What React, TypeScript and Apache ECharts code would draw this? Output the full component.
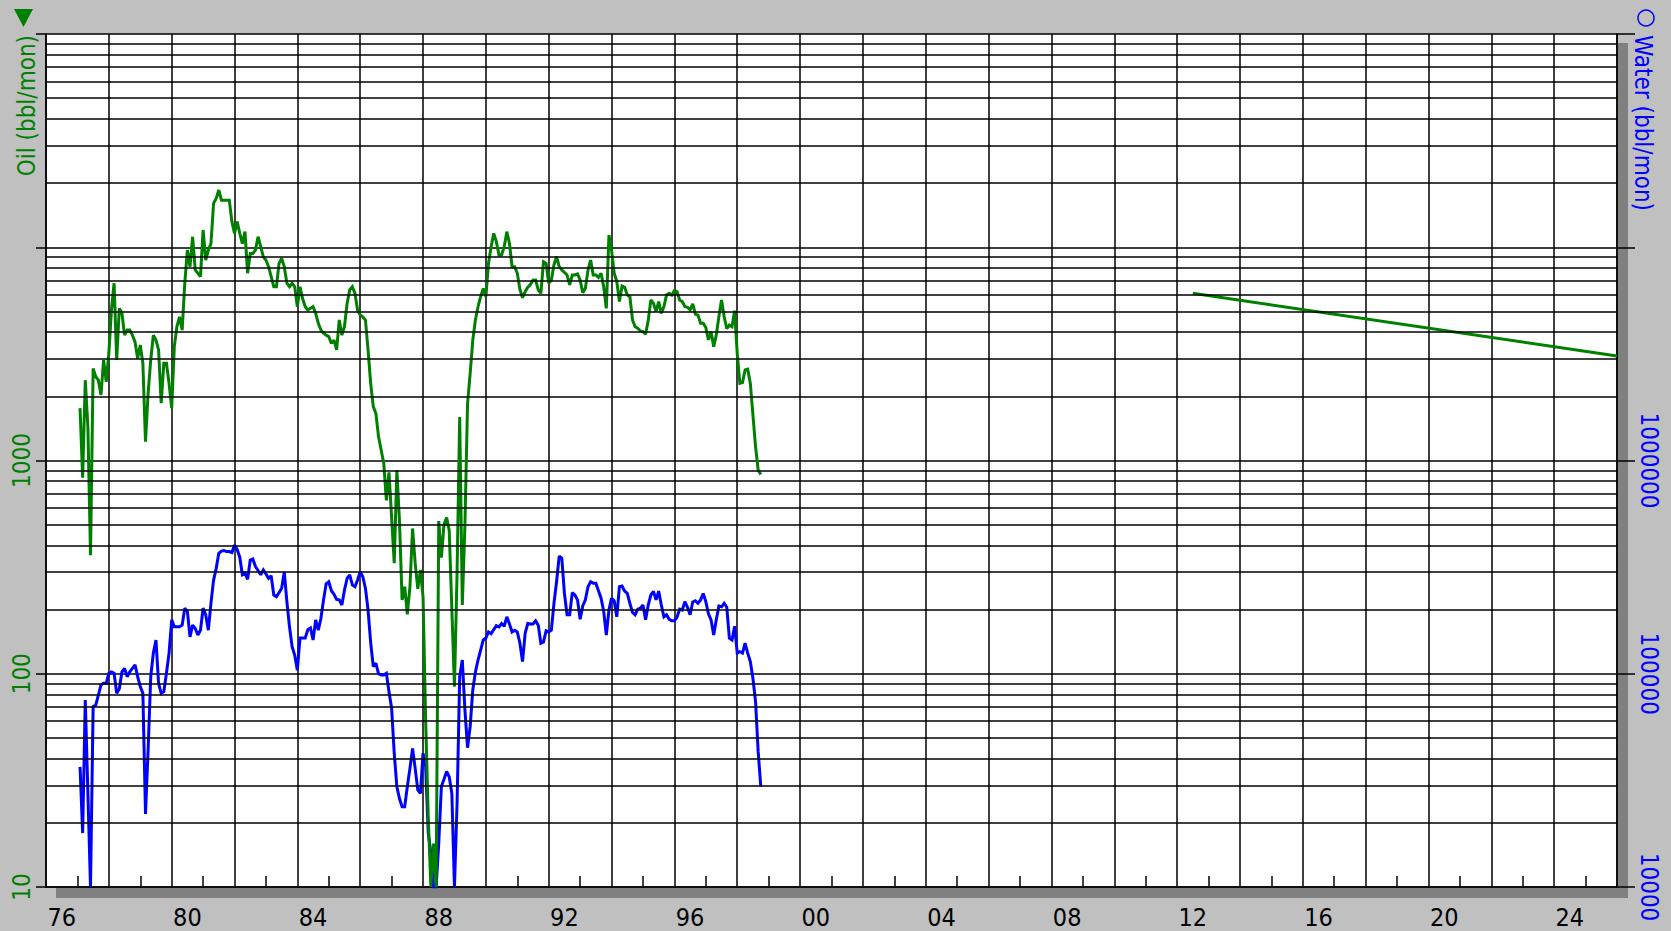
import React, { useEffect, useRef } from "react";
import * as echarts from "echarts";

// ---- data (monthly, first value = Feb 1977) ----
const START_YEAR = 1977;
const START_MONTH = 2;

const oilValues = [
  1760, 830, 2380, 1440, 360, 2700, 2470, 2380, 2030, 2960,
  2340, 3180, 5080, 6780, 2960, 5170, 4900, 3870, 4090, 4090,
  3870, 3600, 3010, 3480, 2855, 1225, 2065, 2960, 3870, 3670,
  3300, 1855, 2855, 2855, 2300, 1760, 3420, 4250, 4720, 4090,
  6780, 9700, 8110, 11200, 7820, 7550, 7280, 12050, 8710, 9700,
  10400, 16060, 16950, 18550, 16630, 16630, 16630, 16630, 13180, 11620,
  13180, 11620, 10400, 11830, 7550, 9360, 9360, 9700, 11200, 10070,
  9030, 8710, 8110, 7280, 6530, 6530, 8400, 8870, 8110, 6780,
  6530, 6780, 6530, 5260, 6530, 5750, 5260, 5080, 5170, 5260,
  4900, 4400, 4090, 3950, 3870, 3810, 3540, 3670, 3300, 4560,
  3870, 4250, 5460, 6310, 6530, 6080, 5080, 4810, 4720, 4560,
  3300, 2300, 1790, 1660, 1295, 1120, 970, 650, 880, 540,
  330, 900, 520, 222, 256, 190, 256, 480, 330, 250,
  307, 230, 60, 21, 10, 16, 10, 520, 350, 500,
  540, 470, 200, 87, 300, 1600, 210, 500, 1850, 2560,
  3670, 4560, 5260, 5870, 6410, 5870, 8400, 10060, 11620, 10620,
  9200, 9200, 10060, 11830, 10430, 8110, 8110, 7550, 6350, 5800,
  6190, 6490, 6680, 7000, 7020, 6310, 6080, 8550, 8400, 6780,
  7020, 8260, 9030, 8110, 7820, 7620, 7410, 6660, 7410, 7410,
  7490, 7020, 6120, 6420, 7820, 8710, 7410, 7410, 7220, 7550,
  6530, 5170, 11420, 9700, 7550, 6900, 5560, 6580, 6490, 5970,
  5870, 4560, 4240, 4170, 4050, 4020, 3910, 4530, 5660, 5460,
  4990, 5560, 4900, 5270, 5970, 6080, 5970, 6260, 6190, 5660,
  5560, 5270, 5230, 5080, 5420, 4860, 4810, 4400, 4400, 4200,
  3680, 4020, 3420, 3880, 4730, 5660, 4730, 4150, 4320, 4240,
  5040, 3180, 2300, 2320, 2660, 2680, 2300, 1630, 1160, 900,
  860,
];

const waterValues = [
  36600, 17900, 75300, 27500, 10000, 70100, 71300, 79400, 88600, 90200,
  90200, 100500, 102000, 100500, 80900, 85000, 102000, 106000, 96900, 102000,
  106000, 110000, 96900, 87000, 80900, 22000, 43900, 96900, 125000, 144000,
  90000, 80900, 82400, 100500, 125000, 179000, 166000, 166000, 166000, 169000,
  203000, 196000, 149000, 169000, 163000, 152000, 160000, 203000, 189000, 160000,
  214000, 275000, 312000, 367000, 376000, 378000, 374000, 374000, 370000, 402000,
  383000, 352000, 291000, 296000, 277000, 341000, 345000, 318000, 305000, 291000,
  307000, 294000, 280000, 288000, 234000, 230000, 240000, 252000, 300000, 218000,
  166000, 134000, 122000, 104000, 147000, 147000, 147000, 161000, 164000, 144000,
  179000, 160000, 182000, 222000, 264000, 270000, 245000, 236000, 223000, 222000,
  210000, 247000, 280000, 291000, 261000, 256000, 275000, 301000, 285000, 252000,
  199000, 140000, 108000, 112000, 100000, 98700, 98700, 100500, 82400, 68900,
  42400, 29600, 26000, 23800, 23800, 29600, 36000, 44700, 36000, 28500,
  27500, 42400, 36600, 17900, 14400, 10000, 10000, 16000, 29600, 32000,
  34800, 32900, 27500, 10000, 24700, 96900, 116000, 67600, 45000, 56500,
  83900, 102000, 116000, 129000, 144000, 147000, 157000, 154000, 161000, 168000,
  166000, 172000, 167000, 185000, 171000, 157000, 160000, 157000, 139000, 114000,
  155000, 172000, 171000, 171000, 177000, 169000, 139000, 141000, 159000, 157000,
  160000, 214000, 270000, 356000, 348000, 238000, 189000, 189000, 240000, 234000,
  222000, 180000, 208000, 222000, 256000, 270000, 266000, 266000, 245000, 226000,
  196000, 152000, 199000, 226000, 220000, 185000, 256000, 258000, 244000, 238000,
  214000, 194000, 189000, 201000, 203000, 210000, 179000, 210000, 234000, 243000,
  222000, 244000, 210000, 185000, 189000, 180000, 177000, 177000, 184000, 201000,
  199000, 218000, 205000, 189000, 217000, 220000, 214000, 222000, 238000, 218000,
  191000, 179000, 152000, 179000, 208000, 206000, 214000, 205000, 147000, 144000,
  167000, 125000, 127000, 125000, 139000, 125000, 114000, 95000, 74000, 43000,
  29600,
];

// forecast (oil), decimal years and values
const forecastYears = [2012.5, 2026];
const forecastOil = [6080, 3090];

// axis labels
const xLabelYears = [1976, 1980, 1984, 1988, 1992, 1996, 2000, 2004, 2008, 2012, 2016, 2020, 2024];
const oilAxisLabels = [10, 100, 1000];
const waterAxisLabels = [10000, 100000, 1000000];
const gridDecades = [10, 100, 1000, 10000];
const gridMultipliers = [2, 3, 4, 5, 6, 7, 8, 9];

// ---- styling ----
const FONT =
  "'Liberation Sans Narrow', 'Arial Narrow', 'DejaVu Sans Condensed', 'Liberation Sans', Arial, sans-serif";
const GREEN = "#008000";
const BLUE = "#0000ff";
const BLACK = "#000000";
const LINE = { color: BLACK, width: 1.5 };
const FS = 24;

const monthToYear = (k: number) => START_YEAR + (START_MONTH - 1 + k) / 12;

export default function App() {
  const ref = useRef<HTMLDivElement>(null);

  useEffect(() => {
    if (!ref.current) return;
    const chart = echarts.init(ref.current, undefined, { renderer: "svg" });

    const oilData = oilValues.map((v, k) => [monthToYear(k), v]);
    const waterData = waterValues.map((v, k) => [monthToYear(k), v]);
    const forecastData = forecastYears.map((y, i) => [y, forecastOil[i]]);

    const oddYears: number[] = [];
    for (let y = 1977; y < 2026; y += 2) oddYears.push(y);
    const labelPos = xLabelYears.map((y) => y + 0.5);

    const minorLines: { yAxis: number }[] = [];
    gridDecades.forEach((d) => gridMultipliers.forEach((m) => minorLines.push({ yAxis: d * m })));

    const option: any = {
      animation: false,
      backgroundColor: "#c0c0c0",
      grid: {
        left: 46,
        top: 34,
        right: 54,
        bottom: 44,
        show: true,
        backgroundColor: "#ffffff",
        borderWidth: 0,
        containLabel: false,
      },
      xAxis: [
        {
          type: "value",
          min: 1976,
          max: 2026,
          interval: 2,
          position: "bottom",
          axisLine: { show: true, onZero: false, lineStyle: LINE },
          axisTick: { show: false },
          axisLabel: { show: false },
          splitLine: { show: true, lineStyle: LINE },
        },
        {
          type: "value",
          min: 1976,
          max: 2026,
          position: "bottom",
          axisLine: { show: false },
          axisTick: {
            show: true,
            inside: true,
            length: 11,
            customValues: oddYears,
            lineStyle: LINE,
          },
          axisLabel: {
            show: true,
            customValues: labelPos,
            formatter: (v: number) => String(Math.floor(v + 1e-6) % 100).padStart(2, "0"),
            color: "#000",
            fontSize: 25,
            fontFamily: FONT,
            margin: 18,
          },
          splitLine: { show: false },
        },
      ],
      yAxis: [
        {
          type: "log",
          logBase: 10,
          min: 10,
          max: 100000,
          position: "left",
          axisLine: { show: true, onZero: false, lineStyle: LINE },
          axisTick: { show: true, inside: false, length: 10, lineStyle: LINE },
          axisLabel: {
            show: true,
            rotate: 90,
            margin: 12,
            color: GREEN,
            fontSize: FS,
            fontFamily: FONT,
            formatter: (v: number) => {
              const r = Math.round(v);
              return oilAxisLabels.includes(r) ? String(r) : "";
            },
          },
          splitLine: { show: true, lineStyle: LINE },
        },
        {
          type: "log",
          logBase: 10,
          min: 10000,
          max: 100000000,
          position: "right",
          axisLine: { show: true, onZero: false, lineStyle: LINE },
          axisTick: { show: true, inside: false, length: 18, lineStyle: LINE },
          axisLabel: {
            show: true,
            rotate: -90,
            margin: 20,
            color: BLUE,
            fontSize: FS,
            fontFamily: FONT,
            formatter: (v: number) => {
              const r = Math.round(v);
              return waterAxisLabels.includes(r) ? String(r) : "";
            },
          },
          splitLine: { show: false },
        },
      ],
      graphic: [
        { type: "rect", z: -10, shape: { x: 1618, y: 43, width: 10, height: 855 }, style: { fill: "#808080" } },
        { type: "rect", z: -10, shape: { x: 56, y: 888, width: 1572, height: 10 }, style: { fill: "#808080" } },
        { type: "polygon", shape: { points: [[14, 9], [33, 9], [23.5, 27]] }, style: { fill: GREEN } },
        { type: "circle", shape: { cx: 1646, cy: 18, r: 8 }, style: { fill: "none", stroke: BLUE, lineWidth: 1.5 } },
        {
          type: "text",
          x: 27,
          y: 35,
          rotation: Math.PI / 2,
          style: { text: "Oil (bbl/mon)", fill: GREEN, fontSize: FS, fontFamily: FONT, align: "right", verticalAlign: "middle" },
        },
        {
          type: "text",
          x: 1643,
          y: 35,
          rotation: -Math.PI / 2,
          style: { text: "Water (bbl/mon)", fill: BLUE, fontSize: FS, fontFamily: FONT, align: "left", verticalAlign: "middle" },
        },
      ],
      series: [
        {
          type: "line",
          name: "grid",
          xAxisIndex: 0,
          yAxisIndex: 0,
          data: [],
          silent: true,
          markLine: {
            silent: true,
            symbol: ["none", "none"],
            label: { show: false },
            lineStyle: { color: BLACK, width: 1.5, type: "solid" },
            emphasis: { disabled: true },
            data: minorLines,
          },
        },
        {
          type: "line",
          name: "Water",
          xAxisIndex: 0,
          yAxisIndex: 1,
          data: waterData,
          showSymbol: false,
          symbol: "none",
          lineStyle: { color: BLUE, width: 3, join: "miter", miterLimit: 2 },
          itemStyle: { color: BLUE },
          z: 3,
        },
        {
          type: "line",
          name: "Oil",
          xAxisIndex: 0,
          yAxisIndex: 0,
          data: oilData,
          showSymbol: false,
          symbol: "none",
          lineStyle: { color: GREEN, width: 3, join: "miter", miterLimit: 2 },
          itemStyle: { color: GREEN },
          z: 4,
        },
        {
          type: "line",
          name: "Oil forecast",
          xAxisIndex: 0,
          yAxisIndex: 0,
          data: forecastData,
          showSymbol: false,
          symbol: "none",
          lineStyle: { color: GREEN, width: 3 },
          itemStyle: { color: GREEN },
          z: 4,
        },
      ],
    };

    chart.setOption(option);
    return () => chart.dispose();
  }, []);

  return (
    <div
      ref={ref}
      style={{ position: "absolute", left: 0, top: 0, width: 1671, height: 931 }}
    />
  );
}
